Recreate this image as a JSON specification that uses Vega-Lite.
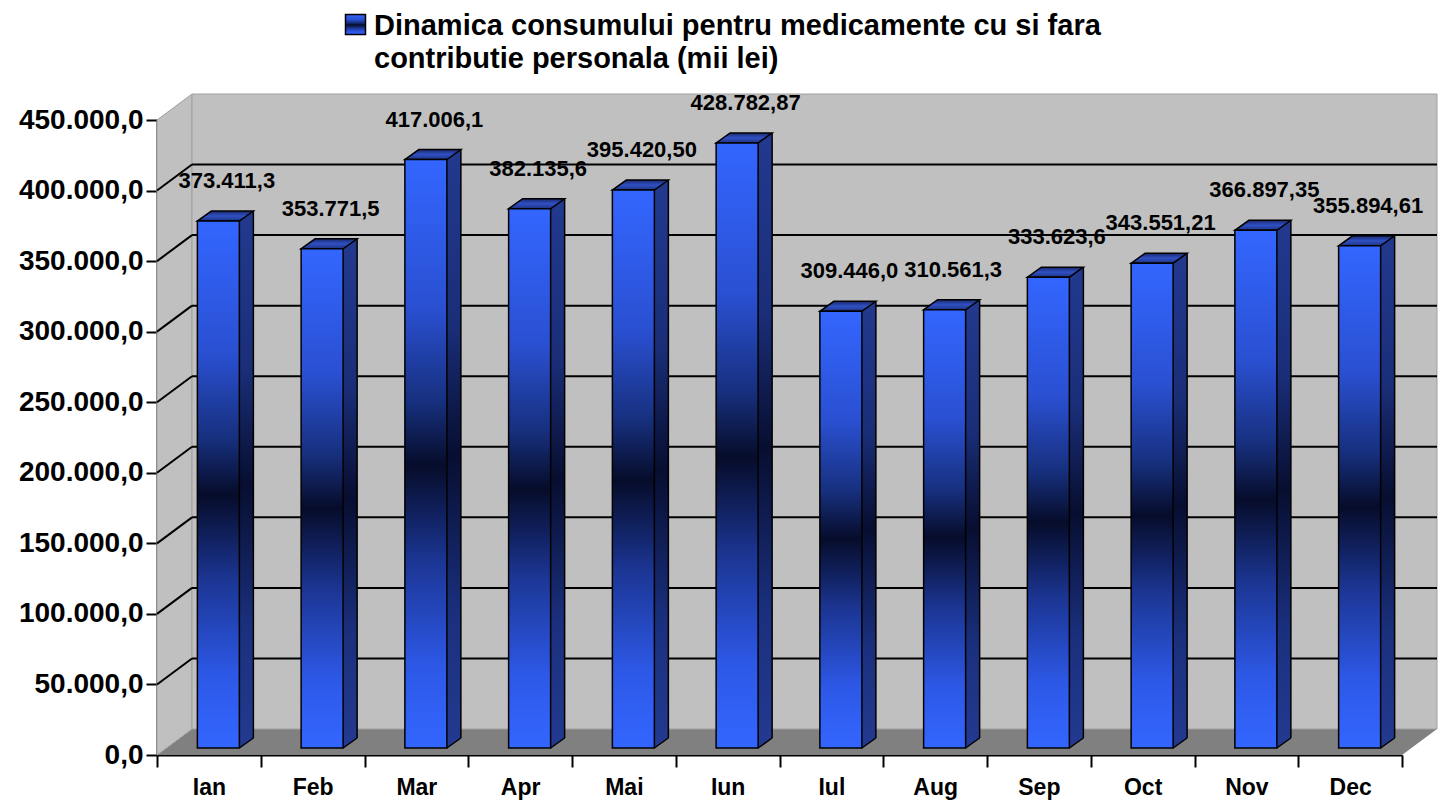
{
  "$schema": "https://vega.github.io/schema/vega-lite/v6.json",
  "width": 1245,
  "height": 635,
  "autosize": "none",
  "padding": {"left": 157, "top": 120, "right": 37, "bottom": 48},
  "background": "white",
  "datasets": {
    "luni": [
      {"luna": "Ian", "valoare": 373411.3, "eticheta": "373.411,3"},
      {"luna": "Feb", "valoare": 353771.5, "eticheta": "353.771,5"},
      {"luna": "Mar", "valoare": 417006.1, "eticheta": "417.006,1"},
      {"luna": "Apr", "valoare": 382135.6, "eticheta": "382.135,6"},
      {"luna": "Mai", "valoare": 395420.50, "eticheta": "395.420,50"},
      {"luna": "Iun", "valoare": 428782.87, "eticheta": "428.782,87"},
      {"luna": "Iul", "valoare": 309446.0, "eticheta": "309.446,0"},
      {"luna": "Aug", "valoare": 310561.3, "eticheta": "310.561,3"},
      {"luna": "Sep", "valoare": 333623.6, "eticheta": "333.623,6"},
      {"luna": "Oct", "valoare": 343551.21, "eticheta": "343.551,21"},
      {"luna": "Nov", "valoare": 366897.35, "eticheta": "366.897,35"},
      {"luna": "Dec", "valoare": 355894.61, "eticheta": "355.894,61"}
    ],
    "grila": [
      {"v": 50000}, {"v": 100000}, {"v": 150000}, {"v": 200000},
      {"v": 250000}, {"v": 300000}, {"v": 350000}, {"v": 400000}
    ]
  },
  "data": {"name": "luni"},
  "encoding": {
    "x": {
      "field": "luna", "type": "nominal",
      "scale": {"domain": ["Ian","Feb","Mar","Apr","Mai","Iun","Iul","Aug","Sep","Oct","Nov","Dec"], "paddingInner": 0, "paddingOuter": 0},
      "axis": {"title": null, "labelAngle": 0, "tickBand": "extent", "tickSize": 12, "tickWidth": 2, "tickColor": "black", "domainColor": "black", "domainWidth": 2, "labelFontSize": 23, "labelPadding": 9, "grid": false}
    },
    "y": {
      "field": "valoare", "type": "quantitative",
      "scale": {"domain": [0, 450000], "nice": false, "zero": true},
      "axis": {"title": null, "values": [0,50000,100000,150000,200000,250000,300000,350000,400000,450000], "format": ",.1f", "tickSize": 11, "tickWidth": 2, "tickColor": "black", "domainColor": "black", "domainWidth": 2, "labelFontSize": 28, "labelPadding": 3, "grid": false}
    }
  },
  "layer": [
    {
      "transform": [{"filter": {"field": "luna", "equal": "Ian"}}],
      "mark": {"type": "point", "filled": true, "opacity": 1, "fill": "#808080", "strokeWidth": 0, "size": 1638400, "xOffset": 640,
        "shape": "M -1 0.0203125 L 0.9453125 0.0203125 L 1 -0.0203125 L -0.9453125 -0.0203125 Z"},
      "encoding": {"x": {"value": 0}, "y": {"value": 622}}
    },
    {
      "transform": [{"filter": {"field": "luna", "equal": "Ian"}}],
      "mark": {"type": "point", "filled": true, "opacity": 1, "fill": "#c0c0c0", "stroke": "#a0a0a0", "strokeWidth": 1, "size": 436921, "xOffset": 17.5,
        "shape": "M -0.05295 1 L -0.05295 -0.921331 L 0.05295 -1 L 0.05295 0.921331 Z"},
      "encoding": {"x": {"value": 0}, "y": {"value": 304.5}}
    },
    {
      "transform": [{"filter": {"field": "luna", "equal": "Ian"}}],
      "mark": {"type": "rect", "fill": "#c0c0c0", "stroke": "#a0a0a0", "strokeWidth": 1, "xOffset": 35, "x2Offset": 35, "yOffset": -26, "y2Offset": -26},
      "encoding": {"x": {"value": 0}, "x2": {"value": "width"}, "y": {"value": 0}, "y2": {"value": "height"}}
    },
    {
      "data": {"name": "grila"},
      "mark": {"type": "rule", "color": "black", "strokeWidth": 2, "xOffset": 35, "x2Offset": 35, "yOffset": -26},
      "encoding": {"x": {"value": 0}, "x2": {"value": "width"}, "y": {"field": "v", "type": "quantitative"}}
    },
    {
      "data": {"name": "grila"},
      "mark": {"type": "point", "filled": false, "opacity": 1, "stroke": "black", "strokeWidth": 2, "size": 1225, "xOffset": 17.5, "yOffset": -13,
        "shape": "M -1 0.742857 L 1 -0.742857"},
      "encoding": {"x": {"datum": "Ian", "bandPosition": 0}, "y": {"field": "v", "type": "quantitative"}}
    },
    {
      "mark": {"type": "bar", "size": 14, "xOffset": 37.5, "yOffset": -17, "y2Offset": -17, "strokeWidth": 0,
        "fill": {"gradient": "linear", "x1": 0, "y1": 0, "x2": 0, "y2": 1, "stops": [
          {"offset": 0, "color": "#22398f"}, {"offset": 0.3, "color": "#1a2e78"}, {"offset": 0.52, "color": "#070e30"}, {"offset": 0.78, "color": "#1a2f7c"}, {"offset": 1, "color": "#22398f"}]}},
      "encoding": {"y2": {"datum": 0}}
    },
    {
      "mark": {"type": "point", "filled": true, "opacity": 1, "fill": "#22398f", "strokeWidth": 0, "size": 196, "xOffset": 37.5, "yOffset": -12,
        "shape": "M -1.05 -0.87 L -1.05 0.714 L 1 -0.714 L 1 -0.87 Z"},
      "encoding": {"y": {"datum": 0}}
    },
    {
      "mark": {"type": "point", "filled": false, "opacity": 1, "stroke": "black", "strokeWidth": 1.5, "size": 196, "xOffset": 37.5, "yOffset": -12,
        "shape": "M -1 0.714286 L 1 -0.714286"},
      "encoding": {"y": {"datum": 0}}
    },
    {
      "mark": {"type": "rule", "color": "black", "strokeWidth": 1.5, "xOffset": 44.5, "yOffset": -17, "y2Offset": -17},
      "encoding": {"y2": {"datum": 0}}
    },
    {
      "mark": {"type": "point", "filled": true, "opacity": 1, "stroke": "black", "strokeWidth": 1.5, "size": 3136, "xOffset": 16.5, "yOffset": -12,
        "fill": {"gradient": "linear", "x1": 0, "y1": 0, "x2": 0, "y2": 1, "stops": [
          {"offset": 0, "color": "#1a2a6e"}, {"offset": 0.5, "color": "#3050c4"}, {"offset": 1, "color": "#1e3380"}]},
        "shape": "M -1 0.178571 L 0.5 0.178571 L 1 -0.178571 L -0.5 -0.178571 Z"}
    },
    {
      "mark": {"type": "bar", "size": 42, "xOffset": 9.5, "yOffset": -7, "y2Offset": -7, "strokeWidth": 1.5,
        "fill": {"gradient": "linear", "x1": 0, "y1": 0, "x2": 0, "y2": 1, "stops": [
          {"offset": 0, "color": "#3366ff"}, {"offset": 0.25, "color": "#2a50d2"}, {"offset": 0.41, "color": "#17307f"}, {"offset": 0.52, "color": "#060c2a"}, {"offset": 0.68, "color": "#1b3592"}, {"offset": 0.86, "color": "#2d58e6"}, {"offset": 1, "color": "#3366ff"}]}},
      "encoding": {
        "y2": {"datum": 0},
        "stroke": {"datum": "Dinamica consumului pentru medicamente cu si fara contributie personala (mii lei)", "type": "nominal", "scale": {"range": ["black"]},
          "legend": {"orient": "none", "legendX": 184, "legendY": -123, "title": null, "padding": 0,
            "symbolType": "M -1 0.3 L 1 0.3 L 1 2.3 L -1 2.3 Z", "symbolSize": 400, "symbolFillColor": "#2b4fd8", "symbolStrokeWidth": 1.5, "symbolOpacity": 1,
            "labelFontSize": 29, "labelFontWeight": "bold", "labelColor": "black", "labelLimit": 0, "labelOffset": 4, "labelBaseline": "top",
            "labelExpr": "['Dinamica consumului pentru medicamente cu si fara', 'contributie personala (mii lei)']"}}
      }
    },
    {
      "mark": {"type": "text", "xOffset": 18, "yOffset": -47, "baseline": "middle", "align": "center", "fontSize": 22, "fontWeight": "bold", "font": "Liberation Sans", "color": "black"},
      "encoding": {"text": {"field": "eticheta", "type": "nominal"}}
    }
  ],
  "config": {
    "locale": {"number": {"decimal": ",", "thousands": ".", "grouping": [3], "currency": ["", ""]}},
    "font": "Liberation Sans",
    "view": {"stroke": null},
    "axis": {"labelFont": "Liberation Sans", "labelFontWeight": "bold", "labelColor": "black", "grid": false},
    "legend": {"labelFont": "Liberation Sans"},
    "style": {"guide-label": {"lineHeight": 33}}
  }
}
